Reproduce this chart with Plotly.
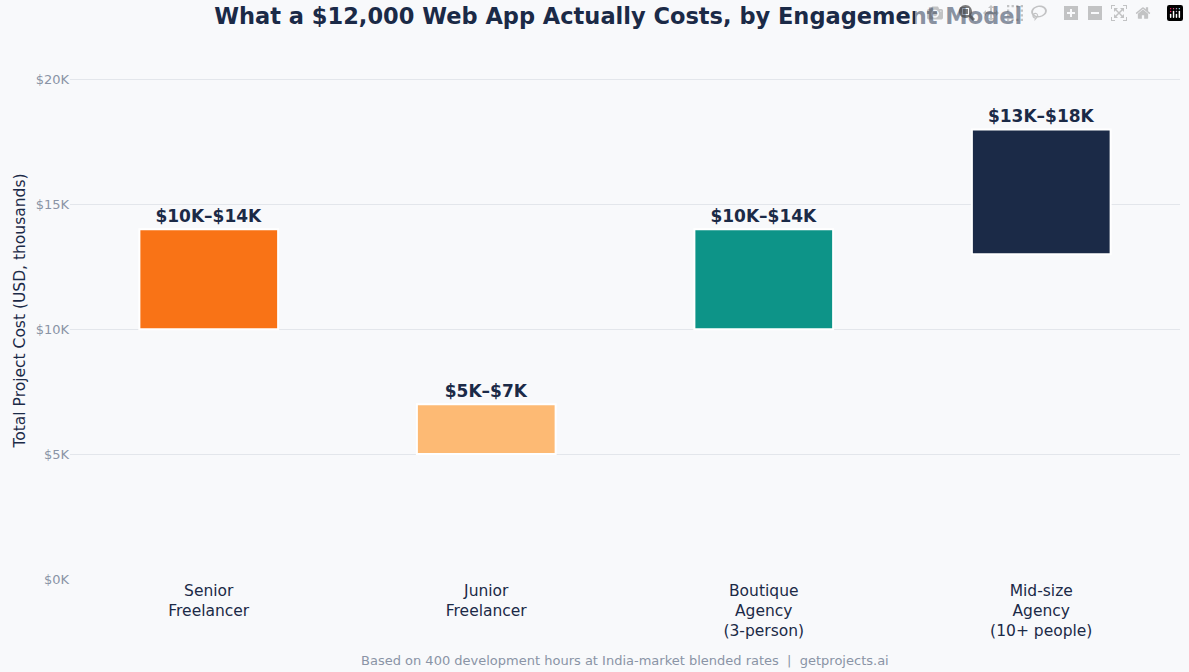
import plotly.graph_objects as go

categories = ["Senior<br>Freelancer", "Junior<br>Freelancer", "Boutique<br>Agency<br>(3-person)", "Mid-size<br>Agency<br>(10+ people)"]
low = [10, 5, 10, 13]
high = [14, 7, 14, 18]
labels = ["$10K–$14K", "$5K–$7K", "$10K–$14K", "$13K–$18K"]
colors = ["#F97316", "#FDBA74", "#0D9488", "#1B2A47"]
tick_vals = [0, 5, 10, 15, 20]
tick_text = ["$0K", "$5K", "$10K", "$15K", "$20K"]

fig = go.Figure(go.Bar(
    x=categories, y=[h - l for h, l in zip(high, low)], base=low,
    marker=dict(color=colors, line=dict(color="white", width=2)),
    width=0.5, text=labels, textposition="outside", cliponaxis=False,
    textfont=dict(size=17, color="#1B2A47", family="DejaVu Sans"),
    texttemplate="<b>%{text}</b>", hoverinfo="skip",
))
fig.update_layout(
    width=1189, height=672,
    paper_bgcolor="#F8F9FB", plot_bgcolor="#F8F9FB",
    font=dict(family="DejaVu Sans", color="#1B2A47"),
    title=dict(text="<b>What a $12,000 Web App Actually Costs, by Engagement Model</b>",
               x=0.52, xanchor="center", y=0.988, yanchor="top",
               font=dict(size=22.5, color="#1B2A47")),
    margin=dict(l=70, r=9, t=42, b=93),
    showlegend=False,
    yaxis=dict(range=[0, 21.5], tickvals=tick_vals, ticktext=tick_text,
               gridcolor="#E3E6EB", zeroline=False, automargin=False,
               tickfont=dict(size=13, color="#8A94A6"),
               title=dict(text="Total Project Cost (USD, thousands)", standoff=6,
                          font=dict(size=15.5, color="#1B2A47"))),
    xaxis=dict(tickfont=dict(size=15.5, color="#1B2A47"), showline=False, automargin=False),
    annotations=[dict(text="Based on 400 development hours at India-market blended rates  |  getprojects.ai",
                      xref="paper", yref="paper", x=0.5, y=-0.135, yanchor="top", showarrow=False,
                      font=dict(size=13, color="#8A94A6"))],
)
fig.write_html("out.html", post_script="document.body.style.margin='0';document.body.style.background='#F8F9FB';document.body.style.overflow='hidden';")
